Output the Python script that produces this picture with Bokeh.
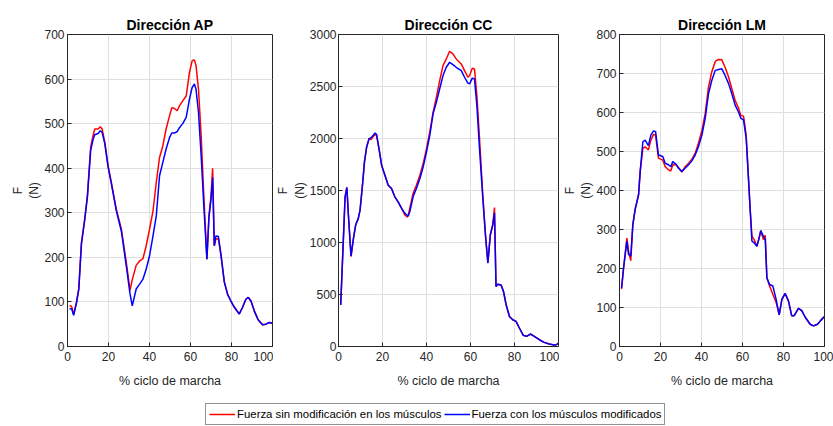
from bokeh.plotting import figure
from bokeh.models import Range1d, FixedTicker, Legend, LegendItem, ColumnDataSource
from bokeh.layouts import row, column
from bokeh.embed import file_html
from bokeh.resources import INLINE

# ---------------- data ----------------
x_ticks = [0, 20, 40, 60, 80, 100]

# Dirección AP
ap_x = [1, 2, 3, 4.4, 5.5, 6.8, 8.4, 9.7, 11.3, 12.5, 13.3, 14.9, 16, 16.9, 18.2, 19.8,
        21.4, 23.8, 26.3, 28.7, 30.5, 31.6, 33.5, 35.2, 36.8, 38.4, 40, 41.7, 43.3, 44.9,
        46.5, 48.1, 49.8, 50.9, 52.2, 53.5, 54.6, 56.2, 57.9, 59.5, 60.8, 61.9, 62.7, 63.9,
        65.2, 66.5, 68, 69, 70, 70.8, 71.6, 72.4, 73.6, 74.9, 76.5, 78.1, 79.7, 81.4, 83.8,
        85.4, 87, 88.2, 89.5, 91.1, 93, 95.1, 96.8, 98.4, 100]
ap_red = [92, 90, 72, 100, 130, 233, 286, 338, 447, 474, 488, 488, 493, 488, 458, 405,
          368, 308, 263, 188, 126, 150, 182, 192, 197, 226, 263, 304, 368, 424,
          450, 488, 518, 536, 534, 529, 540, 551, 562, 615, 641, 643, 630, 577,
          473, 338, 196, 293, 338, 400, 226, 241, 242, 203, 144, 117, 102, 88, 73,
          88, 106, 110, 102, 80, 60, 49, 50, 54, 52]
ap_blue = [84, 85, 70, 98, 128, 230, 284, 335, 440, 465, 475, 478, 484, 480, 455, 403,
           365, 305, 258, 180, 118, 91, 129, 140, 151, 174, 203, 248, 293, 383,
           413, 443, 469, 479, 479, 482, 491, 500, 514, 555, 581, 589, 577, 525,
           428, 316, 196, 290, 330, 379, 226, 248, 247, 205, 145, 117, 102, 88, 73,
           88, 106, 110, 102, 80, 60, 49, 50, 54, 52]
ap_ticks = [0, 100, 200, 300, 400, 500, 600, 700]

# Dirección CC
cc_x = [1, 3, 3.8, 4.5, 5.7, 6.8, 7.8, 9, 9.8, 10.9, 11.8, 12.8, 13.9, 14.8, 15.8, 16.6,
        17.3, 18.4, 19.6, 21.1, 22.6, 24.1, 25.6, 27.1, 28.7, 30.2, 31.2, 31.7, 32.4, 33.9,
        35.4, 37, 38.5, 40, 41.5, 43, 44.5, 46, 47.5, 49, 50.5, 52, 53.5, 55.8, 57.3, 58.8,
        59.6, 60.8, 61.8, 62.9, 64.1, 65.6, 66.8, 67.9, 69, 70.1, 70.9, 71.6, 72.4, 73.9,
        75, 76.2, 77.7, 79.2, 80.7, 82.2, 84, 85.5, 87.2, 89, 91.3, 93.5, 95.8, 98, 99, 100]
cc_red = [400, 1439, 1529, 1264, 865, 1040, 1168, 1232, 1312, 1551, 1775, 1919, 1999, 1990, 2020, 2037,
          2031, 1903, 1743, 1647, 1551, 1519, 1439, 1391, 1328, 1264, 1245, 1262, 1328, 1471,
          1551, 1647, 1759, 1903, 2063, 2254, 2397, 2557, 2701, 2765, 2839, 2813, 2765, 2717, 2653, 2589,
          2605, 2675, 2669, 2414, 1999, 1455, 1072, 805, 1072, 1168, 1337, 577, 599, 592,
          529, 401, 289, 257, 241, 178, 107, 98, 120, 98, 65, 40, 24, 14, 17, 33]
cc_blue = [400, 1439, 1529, 1264, 870, 1040, 1168, 1232, 1312, 1551, 1775, 1919, 1999, 2007, 2031, 2053,
           2040, 1903, 1743, 1647, 1551, 1519, 1439, 1391, 1328, 1280, 1262, 1254, 1296, 1439,
           1519, 1615, 1727, 1871, 2031, 2238, 2350, 2478, 2605, 2685, 2733, 2711, 2685, 2653, 2589, 2532,
           2525, 2580, 2573, 2318, 1903, 1423, 1072, 800, 1072, 1168, 1286, 577, 599, 592,
           529, 401, 289, 257, 241, 178, 107, 98, 120, 98, 65, 40, 24, 14, 17, 33]
cc_ticks = [0, 500, 1000, 1500, 2000, 2500, 3000]

# Dirección LM
lm_x = [1, 2, 3.6, 4.4, 5.5, 6.5, 7.6, 9.3, 10.1, 11.4, 12.5, 14.1, 15.3, 16.6, 17.6, 19,
        21.1, 22.3, 23.9, 25, 26, 27.6, 28.8, 30.4, 32, 33.7, 35.3, 36.9, 38.5, 40.2, 41.8,
        43.4, 45, 46.7, 48.3, 49.9, 51.5, 53.2, 54.8, 56.4, 58, 59.2, 60.5, 61.8, 62.9, 63.7,
        64.6, 65.7, 67, 68.1, 68.9, 70.2, 71.1, 71.9, 73.2, 74.8, 76.4, 77.9, 79.2, 80.8,
        82.4, 84, 85.2, 87.3, 88.9, 90.6, 93, 94.6, 96.6, 98.2, 100]
lm_red = [147, 202, 278, 245, 220, 312, 351, 389, 449, 508, 512, 504, 529, 544, 542, 483,
          478, 461, 453, 450, 466, 466, 459, 447, 461, 470, 480, 495, 521, 554, 597,
          665, 704, 731, 736, 735, 716, 691, 661, 631, 612, 592, 591, 542, 432, 355,
          283, 274, 257, 278, 297, 274, 285, 176, 155, 134, 113, 81, 121, 136,
          117, 79, 79, 98, 92, 75, 57, 53, 57, 67, 77]
lm_blue = [150, 202, 270, 236, 232, 312, 351, 389, 449, 525, 529, 515, 542, 553, 551, 491,
           487, 470, 466, 461, 474, 467, 457, 449, 457, 466, 476, 491, 512, 542, 585,
           648, 682, 708, 710, 712, 695, 674, 648, 619, 602, 585, 581, 534, 432, 355,
           270, 266, 257, 278, 297, 283, 274, 176, 159, 155, 121, 81, 121, 136,
           117, 79, 79, 98, 92, 75, 57, 53, 57, 67, 77]
lm_ticks = [0, 100, 200, 300, 400, 500, 600, 700, 800]

titles = ["Dirección AP", "Dirección CC", "Dirección LM"]
xlabel = "% ciclo de marcha"
ylabel = "F\n(N)"
legend_labels = ["Fuerza sin modificación en los músculos", "Fuerza con los músculos modificados"]

RED = "#FF0000"
BLUE = "#0000FF"
AXC = "#262626"
FONT = "Liberation Sans"
FIG_H = 395
FRAME_TOP = 34
FRAME_BOTTOM = 49


def style_axis(ax):
    ax.axis_line_color = AXC
    ax.axis_line_width = 1
    ax.major_tick_line_color = AXC
    ax.major_tick_in = 4
    ax.major_tick_out = 0
    ax.minor_tick_line_color = None
    ax.major_label_text_color = AXC
    ax.major_label_text_font = FONT
    ax.major_label_text_font_size = "12px"
    ax.axis_label_text_font = FONT
    ax.axis_label_text_font_size = "12.5px"
    ax.axis_label_text_font_style = "normal"
    ax.axis_label_text_color = AXC


def make_panel(title, xs, red, blue, yticks, width, lb, rb, ystand):
    p = figure(width=width, height=FIG_H, output_backend="svg", toolbar_location=None,
               x_range=Range1d(0, 100), y_range=Range1d(yticks[0], yticks[-1]),
               min_border_left=lb, min_border_right=rb,
               min_border_top=FRAME_TOP, min_border_bottom=FRAME_BOTTOM)
    p.title.text = title
    p.title.text_font = FONT
    p.title.text_font_size = "14px"
    p.title.text_font_style = "bold"
    p.title.text_color = "black"
    p.title.align = "center"
    p.title.standoff = 3
    p.outline_line_color = AXC
    p.outline_line_width = 1
    p.background_fill_color = "white"
    p.border_fill_color = "white"

    p.xaxis.ticker = FixedTicker(ticks=x_ticks)
    p.yaxis.ticker = FixedTicker(ticks=yticks)
    p.xaxis.axis_label = xlabel
    p.yaxis.axis_label = ylabel
    for ax in p.xaxis + p.yaxis:
        style_axis(ax)
    p.xaxis.major_label_standoff = 5
    p.xaxis.axis_label_standoff = 10
    p.yaxis.major_label_standoff = ystand
    p.yaxis.axis_label_standoff = 0
    p.yaxis.axis_label_text_font_size = "12px"

    p.xgrid.ticker = FixedTicker(ticks=x_ticks)
    p.ygrid.ticker = FixedTicker(ticks=yticks)
    p.grid.grid_line_color = "#dfdfdf"
    p.grid.grid_line_width = 1

    src = ColumnDataSource(dict(x=xs, r=red, b=blue))
    p.line("x", "r", source=src, line_color=RED, line_width=1.5)
    p.line("x", "b", source=src, line_color=BLUE, line_width=1.5)
    return p


f1 = make_panel(titles[0], ap_x, ap_red, ap_blue, ap_ticks, 273, 67, 1, 3)
f2 = make_panel(titles[1], cc_x, cc_red, cc_blue, cc_ticks, 286, 64, 1, 2)
f3 = make_panel(titles[2], lm_x, lm_red, lm_blue, lm_ticks, 274, 60, 9, 3)

# legend strip
lg = figure(width=833, height=426 - FIG_H, output_backend="svg", toolbar_location=None,
            x_range=Range1d(0, 1), y_range=Range1d(-2, -1),
            min_border=0, min_border_left=0, min_border_right=0, min_border_top=0, min_border_bottom=0)
lg.axis.visible = False
lg.grid.visible = False
lg.outline_line_color = None
src_l = ColumnDataSource(dict(x=ap_x, r=ap_red, b=ap_blue))
rr = lg.line("x", "r", source=src_l, line_color=RED, line_width=1.5)
rb_ = lg.line("x", "b", source=src_l, line_color=BLUE, line_width=1.5)
leg = Legend(items=[LegendItem(label=legend_labels[0], renderers=[rr]),
                    LegendItem(label=legend_labels[1], renderers=[rb_])],
             orientation="horizontal", location=(205, 1))
leg.label_text_font = FONT
leg.label_text_font_size = "11.4px"
leg.label_text_color = "black"
leg.glyph_width = 26
leg.glyph_height = 14
leg.label_height = 14
leg.label_standoff = 2
leg.spacing = 2
leg.padding = 3
leg.margin = 0
leg.border_line_color = AXC
leg.border_line_width = 1
leg.background_fill_color = "white"
leg.background_fill_alpha = 1
lg.add_layout(leg)

layout = column(row(f1, f2, f3), lg)
open("out.html", "w").write(file_html(layout, INLINE))
